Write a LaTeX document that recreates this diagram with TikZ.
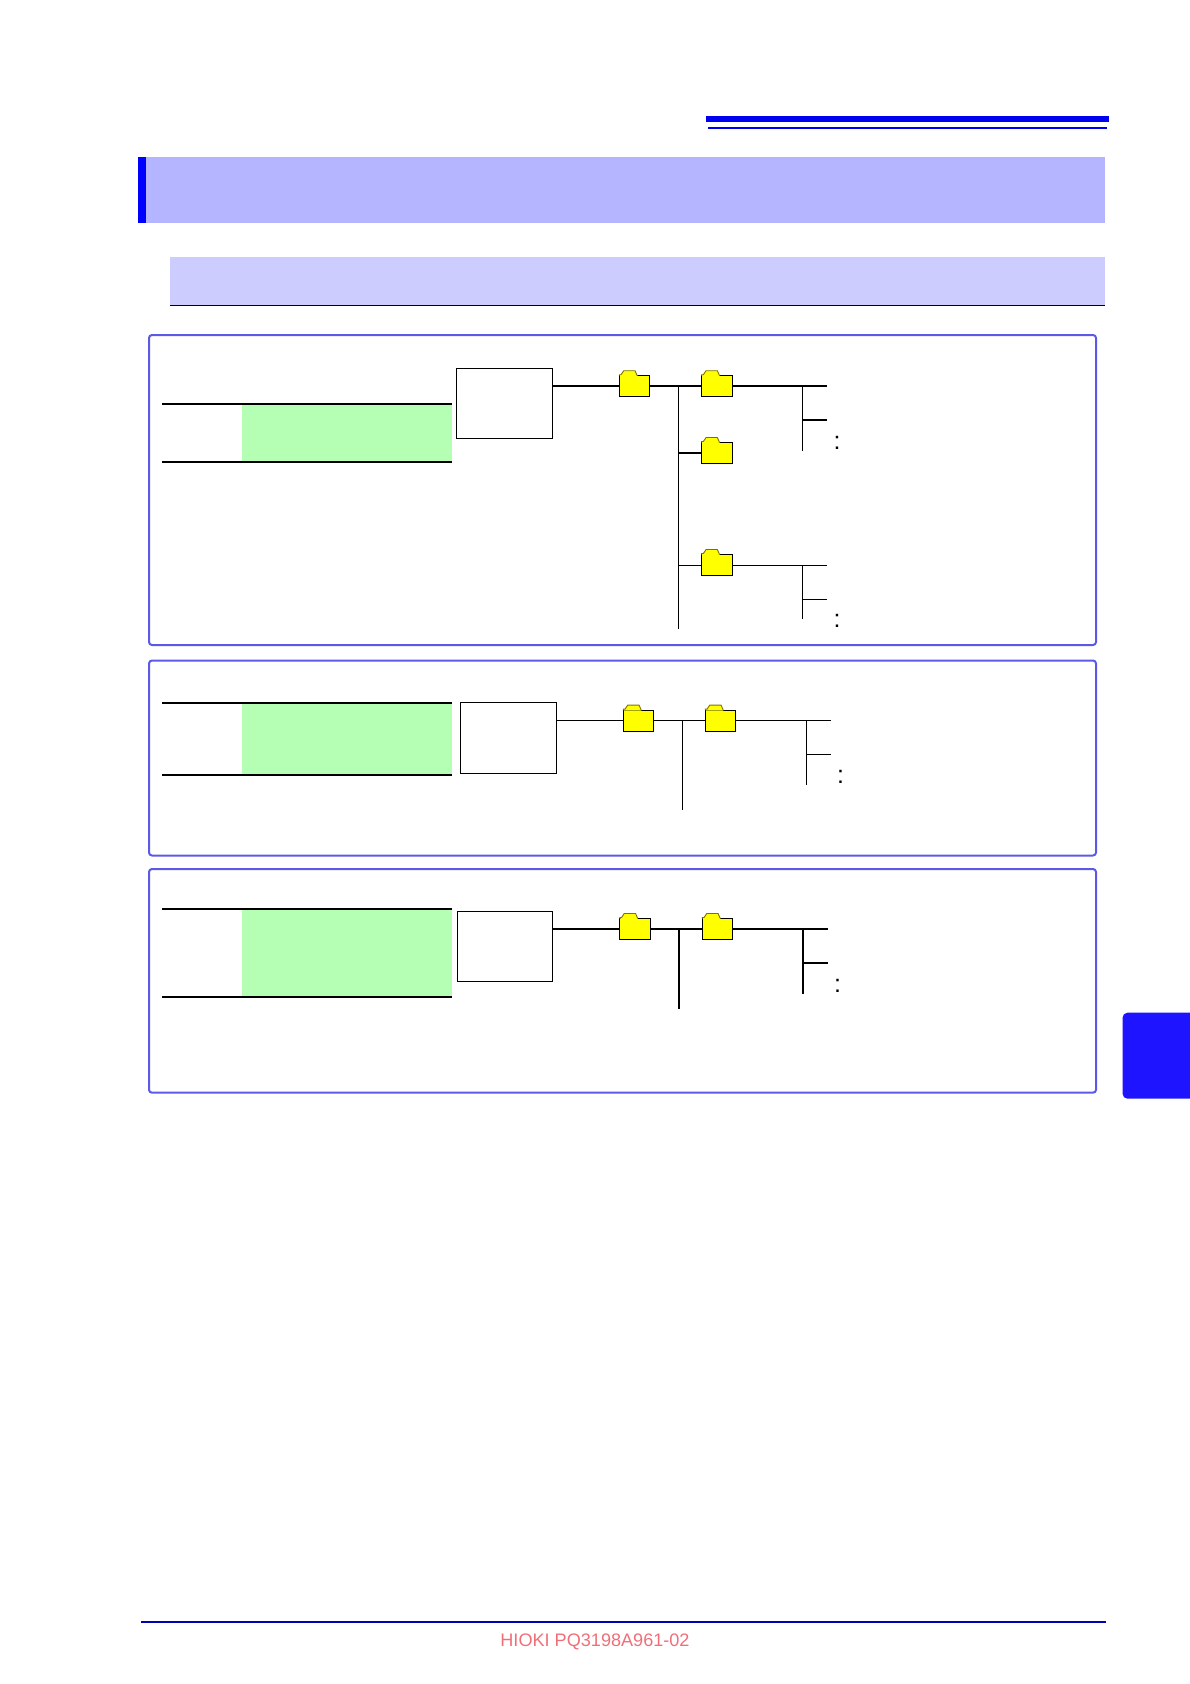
\documentclass[tikz,border=0pt]{standalone}
\usepackage{fontspec}
\setmainfont{Liberation Sans}
\usetikzlibrary{positioning}
\definecolor{barblue}{HTML}{0000F0}
\definecolor{titleband}{HTML}{B4B4FF}
\definecolor{subband}{HTML}{CCCCFF}
\definecolor{panelblue}{HTML}{5A5AE6}
\definecolor{tabblue}{HTML}{1E14FF}
\definecolor{footblue}{HTML}{0000B4}
\definecolor{footred}{HTML}{F06E78}
\definecolor{greenband}{HTML}{B4FFB4}
\definecolor{tabedge}{HTML}{807000}
\definecolor{foldyellow}{HTML}{FFFF00}
% folder = body node plus the small tab on its top edge
\newcommand{\folder}[3]{%
  \node[foldbody] (#1) at (#2,#3) {};
  \fill[foldyellow] (#2-14.75,#3-10) -- ++(0,-1.5) -- ++(1.3,0) -- ++(2.7,-4) -- ++(11.3,0)
        -- ++(2.2,5) -- ++(0,0.5) -- cycle;
  \draw[tabedge, line width=0.9pt] (#2-15.25,#3-10.5) -- ++(0,-1) -- ++(1.8,0) -- ++(2.7,-4)
        -- ++(11.3,0) -- ++(2.2,5);
}
\begin{document}
\begin{tikzpicture}[
      x=1pt, y=-1pt,
      panel/.style    = {rectangle, draw=panelblue, line width=2pt, rounded corners=3pt,
                         anchor=north west, outer sep=0pt, inner sep=0pt},
      treebox/.style  = {rectangle, draw, line width=1pt, anchor=north west,
                         outer sep=0pt, inner sep=0pt},
      foldbody/.style = {rectangle, draw, fill=foldyellow, line width=1pt, minimum width=30.5pt,
                         minimum height=21pt, outer sep=0pt, inner sep=0pt},
      thin line/.style  = {line width=1pt},
      thick line/.style = {line width=2pt},
      dots/.style     = {font=\fontsize{25}{25}\selectfont, inner sep=0pt}
    ]
    \useasboundingbox (0,0) rectangle (1190,1684);

    % page furniture
    \fill[barblue] (706,116) rectangle (1109,122);
    \fill[barblue] (708,127) rectangle (1107,129);
    \fill[titleband] (138,157) rectangle (1105,223);
    \fill[blue] (138,157) rectangle (146,223);
    \fill[subband] (170,257) rectangle (1105,305);
    \draw[thin line] (170,305.5) -- (1105,305.5);
    \fill[tabblue, rounded corners=5pt] (1122.5,1012.7) rectangle (1200,1098.7);
    \draw[footblue, thick line] (141,1622) -- (1106,1622);
    \node[footred, font=\fontsize{18.1}{20}\selectfont] (foot) at (595,1642) {HIOKI PQ3198A961-02};

    % panels
    \node[panel, minimum width=947pt, minimum height=310pt] (panel1) at (149,335) {};
    \node[panel, minimum width=947pt, minimum height=195pt] (panel2) at (149,660.5) {};
    \node[panel, minimum width=947pt, minimum height=223.7pt] (panel3) at (149,869) {};

    % green table rows
    \fill[greenband] (242,404) rectangle (452,462);
    \draw[thick line] (162,404) -- (452,404);
    \draw[thick line] (162,462) -- (452,462);
    \fill[greenband] (242,702.7) rectangle (452,775);
    \draw[thick line] (162,702.7) -- (452,702.7);
    \draw[thick line] (162,775) -- (452,775);
    \fill[greenband] (242,908.7) rectangle (452,997);
    \draw[thick line] (162,908.7) -- (452,908.7);
    \draw[thick line] (162,997) -- (452,997);

    % first tree
    \node[treebox, minimum width=96.4pt, minimum height=70pt] (box1) at (456.3,368.3) {};
    \folder{foldA}{634.5}{386.2}
    \folder{foldB}{716.8}{386.2}
    \folder{foldC}{716.8}{453}
    \folder{foldD}{716.8}{565}
    \coordinate (joinA) at (678.3,386);
    \coordinate (trunkA) at (678.3,628.7);
    \coordinate (joinC) at (678.3,453);
    \coordinate (joinD) at (678.3,565);
    \coordinate (endB) at (827,386.2);
    \coordinate (forkB) at (802.3,386);
    \coordinate (stemB) at (802.3,450.7);
    \coordinate (midB) at (802.3,420);
    \coordinate (tipB) at (827,420);
    \coordinate (endD) at (827,565);
    \coordinate (forkD) at (802.3,565);
    \coordinate (stemD) at (802.3,618.7);
    \coordinate (midD) at (802.3,599.3);
    \coordinate (tipD) at (827,599.3);
    \draw[thick line] (box1.east |- foldA.west) -- (foldA);
    \draw[thick line] (foldA) -- (foldB);
    \draw[thin line] (joinA) -- (trunkA);
    \draw[thick line] (joinC) -- (foldC);
    \draw[thin line] (joinD) -- (foldD);
    \draw[thick line] (foldB) -- (endB);
    \draw[thin line] (forkB) -- (stemB);
    \draw[thick line] (midB) -- (tipB);
    \draw[thin line] (foldD) -- (endD);
    \draw[thin line] (forkD) -- (stemD);
    \draw[thin line] (midD) -- (tipD);
    \node[dots] (dotsB) at (837,442.6) {:};
    \node[dots] (dotsD) at (837,621.1) {:};

    % second tree
    \node[treebox, minimum width=96.6pt, minimum height=71pt] (box2) at (460,702.3) {};
    \folder{foldE}{638.5}{720.6}
    \folder{foldF}{720.5}{720.6}
    \coordinate (joinE) at (682.6,720.3);
    \coordinate (trunkE) at (682.6,809.7);
    \coordinate (endF) at (831,720.6);
    \coordinate (forkF) at (806.7,720.3);
    \coordinate (stemF) at (806.7,784.7);
    \coordinate (midF) at (806.7,754.3);
    \coordinate (tipF) at (831,754.3);
    \draw[thin line] (box2.east |- foldE.west) -- (foldE);
    \draw[thin line] (foldE) -- (foldF);
    \draw[thin line] (joinE) -- (trunkE);
    \draw[thin line] (foldF) -- (endF);
    \draw[thin line] (forkF) -- (stemF);
    \draw[thin line] (midF) -- (tipF);
    \node[dots] (dotsF) at (840.6,777.1) {:};

    % third tree
    \node[treebox, minimum width=95.5pt, minimum height=70.4pt] (box3) at (457.2,911.3) {};
    \folder{foldG}{635}{929}
    \folder{foldH}{717.5}{929}
    \coordinate (joinG) at (679.2,929);
    \coordinate (trunkG) at (679.2,1008.7);
    \coordinate (endH) at (828,929);
    \coordinate (forkH) at (803.3,929);
    \coordinate (stemH) at (803.3,993.7);
    \coordinate (midH) at (803.3,963);
    \coordinate (tipH) at (828,963);
    \draw[thick line] (box3.east |- foldG.west) -- (foldG);
    \draw[thick line] (foldG) -- (foldH);
    \draw[thick line] (joinG) -- (trunkG);
    \draw[thick line] (foldH) -- (endH);
    \draw[thick line] (forkH) -- (stemH);
    \draw[thick line] (midH) -- (tipH);
    \node[dots] (dotsH) at (837.6,985.6) {:};
  \end{tikzpicture}
\end{document}
